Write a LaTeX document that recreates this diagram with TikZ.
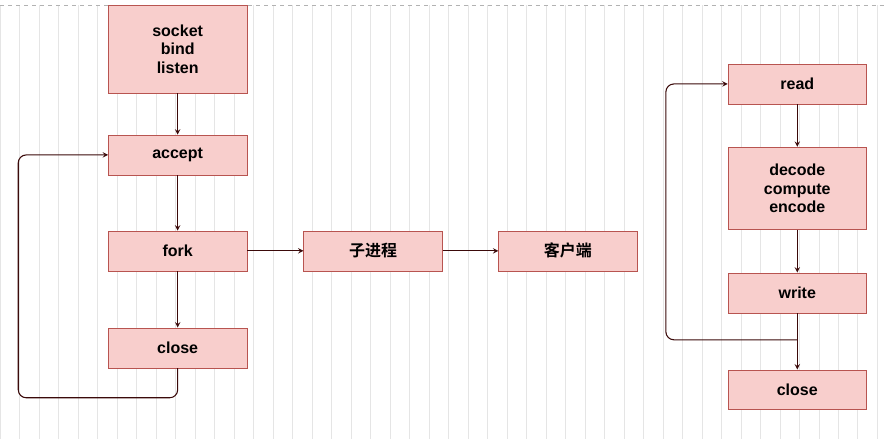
\documentclass[tikz,border=0pt]{standalone}
\usepackage{fontspec}
\setmainfont{Liberation Sans}
\newfontfamily\cjk{Noto Sans CJK SC}[BoldFont={* Bold}]
\usetikzlibrary{positioning}
\definecolor{boxfill}{HTML}{F8CECC}
\definecolor{boxdraw}{HTML}{B85450}
\definecolor{linkcol}{HTML}{3B0A0A}
\tikzset{
   every path/.style={>=stealth},
   blk/.style={draw=boxdraw,fill=boxfill,minimum width=104pt,minimum height=30pt,
      align=center,font=\bfseries\large,inner sep=1pt},
   lnk/.style={->,color=linkcol,thick},
}
\begin{document}
\begin{tikzpicture}[x=0.75pt,y=-0.75pt]
        \fill[white] (0,0) rectangle (885,439);
        \draw[gray!20] (0,5) grid[step=19.5] (885,439);
        \draw[gray!60,dashed] (0,5) -- (885,5);
        \useasboundingbox (0,0) rectangle (885,439);

        \node[blk,minimum height=66pt] (sock) at (177.5,49) {socket\\bind\\listen};
        \node[blk] (acc) at (177.5,155) {accept};
        \node[blk] (fork) at (177.5,251) {fork};
        \node[blk] (cls) at (177.5,348) {close};
        \node[blk] (child) at (373,251) {\cjk 子进程};
        \node[blk] (cli) at (568,251) {\cjk 客户端};

        \node[blk] (rd) at (797.5,84) {read};
        \node[blk,minimum height=62pt] (dec) at (797.5,188.5) {decode\\compute\\encode};
        \node[blk] (wr) at (797.5,293) {write};
        \node[blk] (cls2) at (797.5,390) {close};

        \draw[lnk] (sock) -- (acc);
        \draw[lnk] (acc) -- (fork);
        \draw[lnk] (fork) -- (cls);
        \draw[lnk] (fork) -- (child);
        \draw[lnk] (child) -- (cli);
        \draw[lnk,rounded corners=6pt] (cls.south) |- (18,398) |- (acc.west);

        \draw[lnk] (rd) -- (dec);
        \draw[lnk] (dec) -- (wr);
        \draw[lnk] (wr) -- (cls2);
        \coordinate (split) at (797.5,340);
        \draw[lnk,rounded corners=6pt] (split) -- (666,340) |- (rd.west);
\end{tikzpicture}
\end{document}
